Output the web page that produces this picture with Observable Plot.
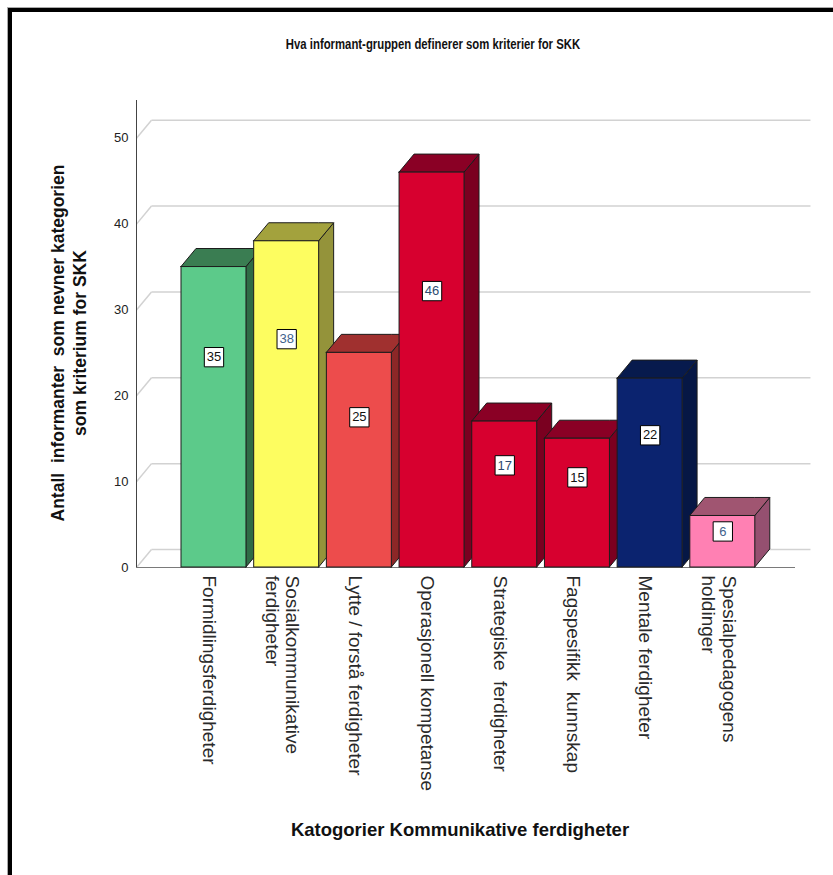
<!DOCTYPE html>
<html><head><meta charset="utf-8">
<script src="https://cdn.jsdelivr.net/npm/d3@7"></script>
<script src="https://cdn.jsdelivr.net/npm/@observablehq/plot@0.6"></script>
<style>
body{margin:0;background:#fff;}
#page{position:relative;width:833px;height:875px;overflow:hidden;font-family:"Liberation Sans",Arial,sans-serif;}
#chart{position:absolute;left:0;top:0;}
#chart svg{background:transparent;}
#chart svg text{white-space:pre;}
#frame{position:absolute;left:8px;top:8px;width:900px;height:900px;border-left:4px solid #000;border-top:4px solid #000;box-shadow:-1px -1px 0 #aaa;z-index:2;}
#title{position:absolute;left:0;width:866px;top:36px;text-align:center;font-weight:bold;font-size:14px;color:#111;white-space:pre;z-index:2;transform:scaleX(0.81);transform-origin:433px 50%;}
#xtitle{position:absolute;left:0;width:920px;top:819px;text-align:center;font-weight:bold;font-size:18.5px;color:#111;white-space:pre;z-index:2;}
#ytitle{position:absolute;left:-141px;top:321px;width:420px;height:44px;line-height:22px;text-align:center;font-weight:bold;font-size:17.5px;color:#111;white-space:pre;transform:rotate(-90deg);transform-origin:50% 50%;z-index:2;}
</style>
</head><body>
<div id="page">
  <div id="chart"></div>
  <div id="frame"></div>
  <div id="title"></div>
  <div id="xtitle"></div>
  <div id="ytitle"></div>
</div>
<script>
// ---- data ----
const chartTitle = "Hva informant-gruppen definerer som kriterier for SKK";
const xTitle = "Katogorier Kommunikative ferdigheter";
const yTitle = "Antall  informanter  som nevner kategorien\nsom kriterium for SKK";
const categories = [
  "Formidlingsferdigheter",
  "Sosialkommunikative\nferdigheter",
  "Lytte / forstå ferdigheter",
  "Operasjonell kompetanse",
  "Strategiske  ferdigheter",
  "Fagspesifikk  kunnskap",
  "Mentale ferdigheter",
  "Spesialpedagogens\nholdinger"
];
const counts = [35, 38, 25, 46, 17, 15, 22, 6];
const yTicks = [0, 10, 20, 30, 40, 50];

// ---- styles ----
const frontColors = ["#5cca8a", "#fdfd60", "#ed4c4c", "#d7002f", "#d7002f", "#d7002f", "#0b236f", "#ff80b3"];
const topColors   = ["#3a7d52", "#a3a23d", "#a0302f", "#8a0025", "#8a0025", "#8a0025", "#071a4d", "#a05571"];
const sideColors  = ["#2f6b45", "#94933a", "#8c2727", "#7a0020", "#7a0020", "#7a0020", "#061745", "#955070"];
const labelColors = ["#111", "#3f628c", "#111", "#2e4a70", "#2e4a70", "#111", "#111", "#3f628c"];

document.getElementById("title").textContent = chartTitle;
document.getElementById("xtitle").textContent = xTitle;
document.getElementById("ytitle").textContent = yTitle;

// geometry of the oblique projection (in scale units)
const X0 = -1.066, X1 = 8.0, YMAX = 54.4;
const HW = 0.447, DX = 0.206, DY = 2.1;

const bars = counts.map((v, i) => ({i, v, cat: categories[i]}));
const sides = bars.flatMap(b => [
  {i: b.i, x: b.i + HW, y1: 0, y2: b.v},
  {i: b.i, x: b.i + HW + DX, y1: DY, y2: b.v + DY}
]);
const tops = bars.flatMap(b => [
  {i: b.i, x: b.i - HW, y1: b.v, y2: b.v},
  {i: b.i, x: b.i - HW + DX, y1: b.v, y2: b.v + DY},
  {i: b.i, x: b.i + HW, y1: b.v, y2: b.v + DY},
  {i: b.i, x: b.i + HW + DX, y1: b.v + DY, y2: b.v + DY}
]);

const edge = "#1c1c1c";
const chart = Plot.plot({
  width: 833, height: 875,
  marginLeft: 136, marginRight: 38, marginTop: 100, marginBottom: 308,
  x: {type: "linear", domain: [X0, X1], axis: null},
  y: {domain: [0, YMAX], axis: null},
  color: {type: "identity"},
  style: {fontFamily: "'Liberation Sans', Arial, sans-serif", background: "transparent", overflow: "visible"},
  marks: [
    // back wall gridlines
    Plot.link(yTicks, {x1: () => X0 + DX, x2: () => X1 + DX, y1: d => d + DY, y2: d => d + DY, stroke: "#d2d2d2", strokeWidth: 1.5}),
    // left wall diagonals
    Plot.link(yTicks, {x1: () => X0, x2: () => X0 + DX, y1: d => d, y2: d => d + DY, stroke: "#d2d2d2", strokeWidth: 1.5}),
    // front baseline and y axis
    Plot.ruleY([0], {x1: () => X0, x2: () => X1, stroke: "#7a7a7a", strokeWidth: 1.2}),
    Plot.ruleX([X0], {y1: () => 0, y2: () => YMAX, stroke: "#444", strokeWidth: 1}),
    Plot.text(yTicks, {x: () => X0, y: d => d, text: d => String(d), textAnchor: "end", dx: -8, fontSize: 13, fill: "#222"}),
    // 3D bars
    Plot.area(sides, {x1: "x", y1: "y1", y2: "y2", z: "i", fill: d => sideColors[d.i], stroke: edge, strokeWidth: 1}),
    Plot.area(tops, {x1: "x", y1: "y1", y2: "y2", z: "i", fill: d => topColors[d.i], stroke: edge, strokeWidth: 1}),
    Plot.rect(bars, {x1: d => d.i - HW, x2: d => d.i + HW, y1: () => 0, y2: "v", fill: d => frontColors[d.i], stroke: edge, strokeWidth: 1}),
    // value labels
    Plot.dot(bars, {x: "i", y: d => d.v * 0.7, symbol: "square", r: 10.9, fill: "white", stroke: "black", strokeWidth: 1}),
    Plot.text(bars, {x: "i", y: d => d.v * 0.7, text: d => String(d.v), fill: d => labelColors[d.i], fontSize: 13}),
    // category labels
    Plot.text(bars, {x: "i", y: () => 0, text: "cat", rotate: 90, textAnchor: "start", lineAnchor: "middle", lineHeight: 1.1, dy: 8, dx: -4, fontSize: 19, fill: "#2a2a2a"})
  ]
});
document.getElementById("chart").appendChild(chart);
</script>
</body></html>
